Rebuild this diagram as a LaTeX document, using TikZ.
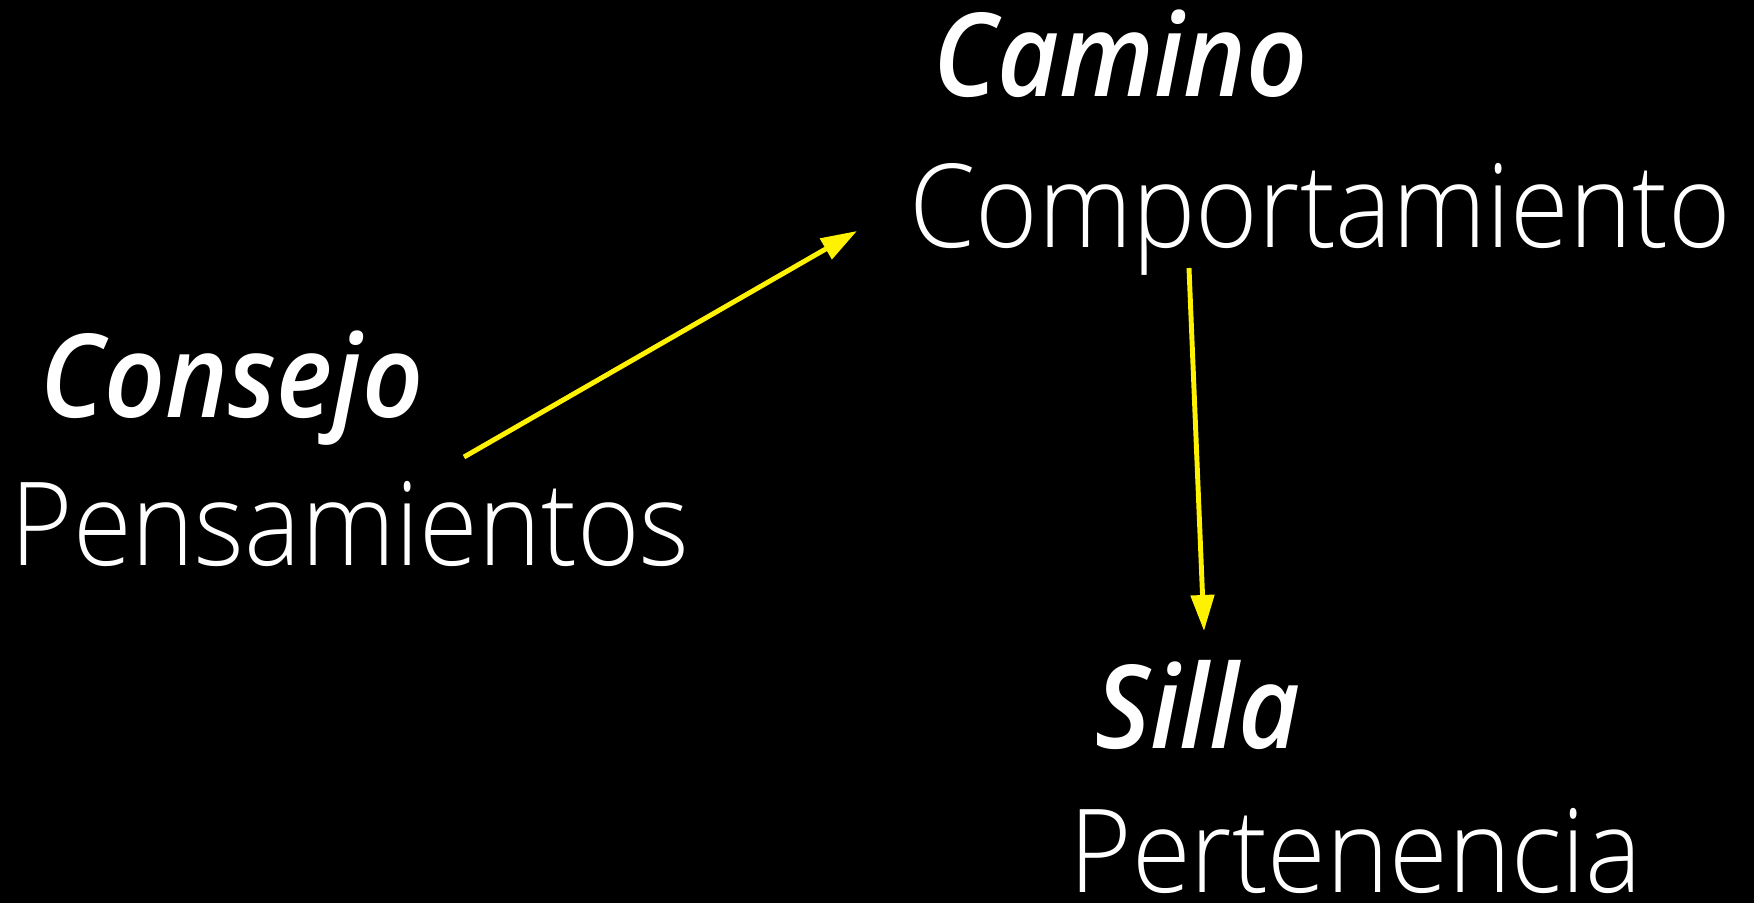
\documentclass[tikz,border=0pt]{standalone}
\usepackage{fontspec}
\setmainfont{Open Sans}[FakeStretch=0.92, UprightFont={* Light}, BoldItalicFont={* Semibold Italic}]
\usetikzlibrary{arrows.meta}
\tikzset{
    palabra/.style={text=white, inner sep=0pt, anchor=base,
        font=\fontsize{33}{40}\selectfont},
    clave/.style={palabra, font=\fontsize{33}{40}\selectfont\bfseries\itshape},
    flecha/.style={draw=yellow, line width=1.4pt,
        -{Triangle[length=0.36cm,width=0.23cm]}}
}

\begin{document}
\begin{tikzpicture}[x=0.01cm,y=-0.01cm]
    \fill[black] (0,0) rectangle (1754,903);
    \useasboundingbox (0,0) rectangle (1754,903);

    \node[clave]   (camino)   at (1121,97)  {Camino};
    \node[palabra] (comport)  at (1320,247) {Comportamiento};
    \node[clave]   (consejo)  at (232,417)  {Consejo};
    \node[palabra] (pensam)   at (350,565)  {Pensamientos};
    \node[clave]   (silla)    at (1198,748) {Silla};
    \node[palabra] (perten)   at (1356,892) {Pertenencia};

    \coordinate (desdePens) at (464,457);
    \coordinate (hastaComp) at (857,231);
    \coordinate (desdeComp) at (1189,268);
    \coordinate (hastaSilla) at (1204,631);

    \draw[flecha] (desdePens) -- (hastaComp);
    \draw[flecha] (desdeComp) -- (hastaSilla);
\end{tikzpicture}
\end{document}
